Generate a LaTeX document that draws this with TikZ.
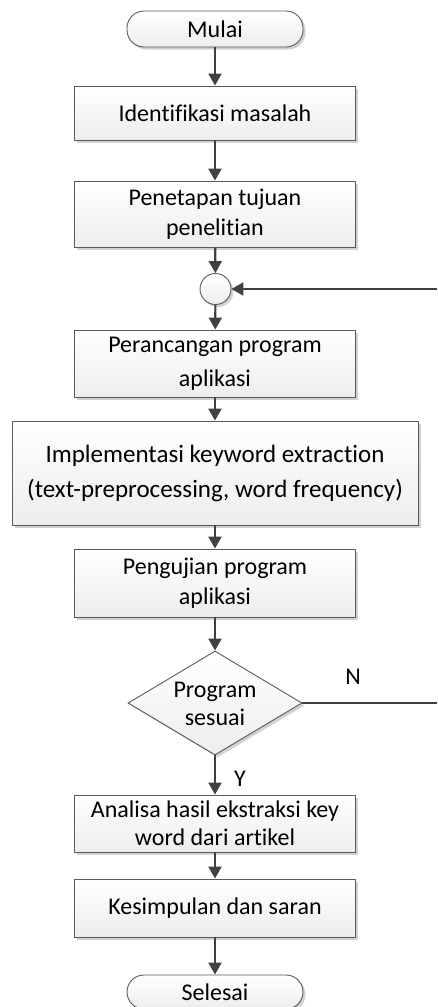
\documentclass[tikz,border=0pt]{standalone}
\usepackage{fontspec}
\setmainfont{Carlito}[Ligatures={NoCommon}]
\usetikzlibrary{shapes.geometric,arrows.meta,shadows}
\definecolor{linec}{HTML}{404040}
\definecolor{edgec}{HTML}{5A5A5A}
\begin{document}
\begin{tikzpicture}[x=1pt,y=-1pt,
  font=\fontsize{24}{30}\selectfont,
  basebox/.style={draw=edgec, line width=0.9pt, top color=white, bottom color=gray!14,
     drop shadow={shadow xshift=2.5pt, shadow yshift=-2.5pt, fill=gray!60, opacity=0.6},
     align=center, inner sep=0pt},
  procbox/.style={basebox, rectangle, minimum width=281pt},
  termbox/.style={basebox, rectangle, rounded corners=17pt, minimum width=176pt},
  decbox/.style={basebox, diamond, minimum width=174pt, minimum height=104pt, aspect=1.67},
  joinc/.style={basebox, circle, minimum size=31pt},
  flow/.style={draw=linec, line width=2.2pt, -{Triangle[length=12pt,width=13pt]}},
  plain/.style={draw=linec, line width=2.2pt},
  lbl/.style={inner sep=0pt}
]
\useasboundingbox (0,0) rectangle (437,1007);

\node[termbox, minimum height=36pt] (mulai) at (215,29) {Mulai};
\node[procbox, minimum height=54pt] (ident) at (215,113) {Identifikasi masalah};
\node[procbox, minimum height=66pt] (penet) at (215,214) {Penetapan tujuan\\penelitian};
\node[joinc] (join) at (215.5,289) {};
\node[procbox, minimum height=67pt, font=\fontsize{24}{34}\selectfont] (peran) at (215,363.5) {Perancangan program\\aplikasi};
\node[basebox, rectangle, minimum width=406pt, minimum height=104pt, font=\fontsize{25}{35}\selectfont] (impl) at (215,473) {Implementasi keyword extraction\\(text-preprocessing, word frequency)};
\node[procbox, minimum height=68pt] (peng) at (215,583) {Pengujian program\\aplikasi};
\node[decbox] (dec) at (215,703) {};
\node[lbl, align=center, font=\fontsize{24}{28}\selectfont] (dectext) at (215,704) {Program\\sesuai};
\node[procbox, minimum height=57pt, font=\fontsize{24}{28}\selectfont] (anal) at (215,823.5) {Analisa hasil ekstraksi key\\word dari artikel};
\node[procbox, minimum height=58pt] (kesim) at (215,908) {Kesimpulan dan saran};
\node[termbox, minimum height=34pt] (seles) at (215,992) {Selesai};

\coordinate (loopin) at (437,289);
\coordinate (nout) at (437,703);

\draw[flow] (mulai) -- (ident);
\draw[flow] (ident) -- (penet);
\draw[flow] (penet) -- (join);
\draw[flow] (loopin) -- (join);
\draw[flow] (join) -- (peran);
\draw[flow] (peran) -- (impl);
\draw[flow] (impl) -- (peng);
\draw[flow] (peng) -- (dec.north);
\draw[flow] (dec.south) -- (anal);
\node[lbl] (ylab) at (240,779) {Y};
\draw[plain] (dec.east) -- (nout);
\node[lbl] (nlab) at (353,677) {N};
\draw[flow] (anal) -- (kesim);
\draw[flow] (kesim) -- (seles);
\end{tikzpicture}
\end{document}
